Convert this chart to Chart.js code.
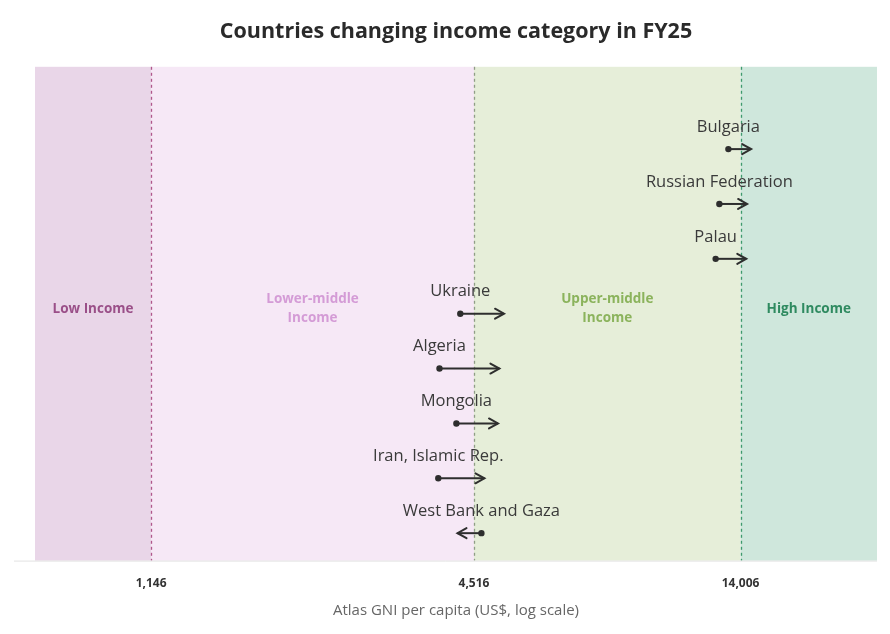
<!DOCTYPE html>
<html>
<head>
<meta charset="utf-8">
<script src="https://cdn.jsdelivr.net/npm/chart.js@4/dist/chart.umd.min.js"></script>
<style>
  html, body { margin: 0; padding: 0; background: #fff; }
  #wrap { width: 890px; height: 634px; }
</style>
</head>
<body>
<div id="wrap"><canvas id="chart"></canvas></div>
<script>
// countries that moved group, GNI per capita before -> after
const countries = ['Bulgaria', 'Russian Federation', 'Palau', 'Ukraine', 'Algeria', 'Mongolia', 'Iran, Islamic Rep.', 'West Bank and Gaza'];
const gniFrom = [13300, 12800, 12600, 4260, 3900, 4190, 3880, 4660];
const gniTo = [14650, 14400, 14350, 5130, 5030, 5000, 4720, 4210];

// income group thresholds (tick labels)
const thresholds = [1146, 4516, 14006];
const groupNames = [['Low Income'], ['Lower-middle', 'Income'], ['Upper-middle', 'Income'], ['High Income']];

const bandColors = ['#e9d6e8', '#f6e8f6', '#e6eed9', '#cfe7dc'];
const bandText = ['#9a4f88', '#d49bd6', '#8bb35c', '#2f8a60'];
const lineColors = ['#b0578b', '#8f9d86', '#3e9a6d'];

const datasets = countries.map((c, i) => ({
  label: c,
  data: [{x: gniFrom[i], y: i}, {x: gniTo[i], y: i}],
  showLine: true,
  borderColor: '#2e2e2e',
  backgroundColor: '#2e2e2e',
  borderWidth: 2,
  pointRadius: [2.2, 0],
  pointHoverRadius: [2.2, 0],
  clip: false
}));

// shaded income bands + dashed threshold lines
const bands = {
  id: 'bands',
  beforeDatasetsDraw(chart) {
    const {ctx, chartArea: a, scales: {x}} = chart;
    const edges = [a.left].concat(thresholds.map(v => x.getPixelForValue(v)), [a.right]);
    ctx.save();
    for (let i = 0; i < 4; i++) {
      ctx.fillStyle = bandColors[i];
      ctx.fillRect(edges[i], a.top, edges[i + 1] - edges[i], a.bottom - a.top);
    }
    ctx.lineWidth = 1.3;
    ctx.setLineDash([3, 3]);
    thresholds.forEach((v, i) => {
      const px = Math.round(x.getPixelForValue(v)) + 0.5;
      ctx.strokeStyle = lineColors[i];
      ctx.beginPath();
      ctx.moveTo(px, a.top);
      ctx.lineTo(px, a.bottom);
      ctx.stroke();
    });
    ctx.setLineDash([]);
    // group names
    ctx.font = 'bold 13.5px "Open Sans"';
    ctx.textAlign = 'center';
    ctx.textBaseline = 'middle';
    const cy = 309;
    groupNames.forEach((lines, i) => {
      const cx = (edges[i] + edges[i + 1]) / 2;
      ctx.fillStyle = bandText[i];
      lines.forEach((t, k) => {
        ctx.fillText(t, cx, cy + (k - (lines.length - 1) / 2) * 19);
      });
    });
    ctx.strokeStyle = '#e2e2e2';
    ctx.lineWidth = 1;
    ctx.beginPath();
    ctx.moveTo(14, a.bottom + 0.5);
    ctx.lineTo(a.right, a.bottom + 0.5);
    ctx.stroke();
    ctx.restore();
  }
};

// arrowheads and country names
const arrows = {
  id: 'arrows',
  afterDatasetsDraw(chart) {
    const {ctx} = chart;
    ctx.save();
    chart.data.datasets.forEach((ds, i) => {
      const pts = chart.getDatasetMeta(i).data;
      const p0 = pts[0], p1 = pts[1];
      const dir = p1.x > p0.x ? 1 : -1;
      ctx.strokeStyle = '#2e2e2e';
      ctx.lineWidth = 2;
      ctx.lineCap = 'round';
      ctx.beginPath();
      ctx.moveTo(p1.x - dir * 9, p1.y - 5);
      ctx.lineTo(p1.x, p1.y);
      ctx.lineTo(p1.x - dir * 9, p1.y + 5);
      ctx.stroke();
      ctx.fillStyle = '#3a3a3a';
      ctx.font = '16.5px "Open Sans"';
      ctx.textAlign = 'center';
      ctx.textBaseline = 'middle';
      ctx.fillText(countries[i], p0.x, p0.y - 22);
    });
    ctx.restore();
  }
};

const config = {
  type: 'scatter',
  data: {datasets: datasets},
  options: {
    responsive: true,
    maintainAspectRatio: false,
    animation: false,
    layout: {padding: {left: 35, right: 13, top: 0, bottom: 11}},
    plugins: {
      legend: {display: false},
      tooltip: {enabled: false},
      title: {
        display: true,
        text: 'Countries changing income category in FY25',
        color: '#2a2a2a',
        font: {family: 'Open Sans', size: 21.5, weight: 'bold'},
        padding: {top: 19, bottom: 22}
      }
    },
    scales: {
      x: {
        type: 'logarithmic',
        min: 700,
        max: 25000,
        afterBuildTicks: s => { s.ticks = thresholds.map(v => ({value: v})); },
        grid: {display: false, drawTicks: false},
        border: {display: false},
        ticks: {
          padding: 16,
          color: '#333',
          font: {family: 'Open Sans', size: 12, weight: 'bold'},
          callback: v => Number(v).toLocaleString('en-US')
        },
        title: {
          display: true,
          text: 'Atlas GNI per capita (US$, log scale)',
          color: '#666',
          font: {family: 'Open Sans', size: 15},
          padding: {top: -5, bottom: 3}
        }
      },
      y: {
        type: 'linear',
        reverse: true,
        min: -1.5,
        max: 7.5,
        display: false
      }
    }
  },
  plugins: [bands, arrows]
};

new Chart(document.getElementById('chart').getContext('2d'), config);
</script>
</body>
</html>
